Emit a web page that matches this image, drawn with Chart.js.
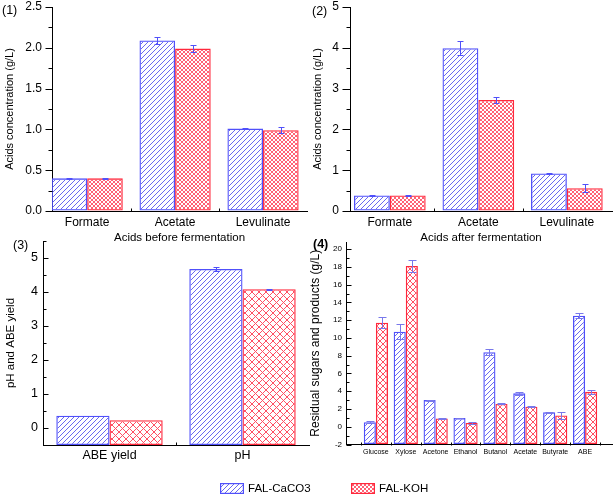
<!DOCTYPE html>
<html>
<head>
<meta charset="utf-8">
<script src="https://cdn.jsdelivr.net/npm/chart.js"></script>
<style>
  body { margin: 0; background: #fff; width: 614px; height: 496px; overflow: hidden; position: relative; font-family: "Liberation Sans", Arial, sans-serif; }
  canvas.panel { position: absolute; }
  .tag { position: absolute; font-size: 12.5px; color: #000; line-height: 14px; }
  .key { position: absolute; font-size: 11.5px; color: #000; line-height: 14px; }
  .sw { position: absolute; }
</style>
</head>
<body>
<canvas class="panel" id="p1" width="312" height="252" style="left:0;top:0"></canvas>
<canvas class="panel" id="p2" width="309" height="252" style="left:305px;top:0"></canvas>
<canvas class="panel" id="p3" width="312" height="230" style="left:0;top:236px"></canvas>
<canvas class="panel" id="p4" width="309" height="230" style="left:305px;top:236px"></canvas>

<div class="tag" style="left:2px;top:3px">(1)</div>
<div class="tag" style="left:312px;top:4px">(2)</div>
<div class="tag" style="left:13px;top:238px">(3)</div>
<div class="tag" style="left:313px;top:237px;font-weight:bold">(4)</div>

<canvas class="sw" id="kb" width="24" height="11" style="left:220px;top:483px"></canvas>
<div class="key" style="left:248px;top:481px">FAL-CaCO3</div>
<canvas class="sw" id="kr" width="24" height="11" style="left:351px;top:483px"></canvas>
<div class="key" style="left:379px;top:481px">FAL-KOH</div>

<script>
const seriesNames = ["FAL-CaCO3", "FAL-KOH"];

// (1) acids before fermentation
const acidCats = ["Formate", "Acetate", "Levulinate"];
const beforeCaCO3 = [0.40, 2.09, 1.01];
const beforeCaCO3Err = [0.01, 0.04, 0.01];
const beforeKOH = [0.40, 1.99, 0.99];
const beforeKOHErr = [0.005, 0.04, 0.04];
const ticks1 = [0, 0.5, 1.0, 1.5, 2.0, 2.5];

// (2) acids after fermentation
const afterCaCO3 = [0.38, 3.99, 0.92];
const afterCaCO3Err = [0.01, 0.17, 0.02];
const afterKOH = [0.38, 2.72, 0.56];
const afterKOHErr = [0.01, 0.08, 0.09];
const ticks2 = [0, 1, 2, 3, 4, 5];

// (3) pH and ABE yield
const yieldCats = ["ABE yield", "pH"];
const yieldCaCO3 = [0.36, 4.68];
const yieldCaCO3Err = [0, 0.07];
const yieldKOH = [0.23, 4.08];
const yieldKOHErr = [0, 0.01];
const ticks3 = [0, 1, 2, 3, 4, 5];

// (4) residual sugars and products
const prodCats = ["Glucose", "Xylose", "Acetone", "Ethanol", "Butanol", "Acetate", "Butyrate", "ABE"];
const prodCaCO3 = [0.5, 10.7, 3.0, 0.97, 8.4, 3.76, 1.63, 12.5];
const prodCaCO3Err = [0.1, 0.85, 0.05, 0.04, 0.3, 0.2, 0.04, 0.3];
const prodKOH = [11.7, 18.1, 0.93, 0.42, 2.57, 2.26, 1.26, 3.93];
const prodKOHErr = [0.6, 0.7, 0.1, 0.08, 0.05, 0.05, 0.35, 0.25];
const ticks4 = [-2, 0, 2, 4, 6, 8, 10, 12, 14, 16, 18, 20];

const FONT = "'Liberation Sans', Arial, sans-serif";
const BLUE = "rgb(80,80,250)";
const BLUE_HATCH = "rgb(105,105,240)";
const RED = "rgb(255,40,60)";
const RED_HATCH = "rgb(255,80,100)";

function stripes(color, size) {
  const c = document.createElement("canvas");
  c.width = c.height = size;
  const g = c.getContext("2d");
  g.strokeStyle = color;
  g.lineWidth = 1;
  g.beginPath();
  g.moveTo(-1, size + 1); g.lineTo(size + 1, -1);
  g.moveTo(-1, 1); g.lineTo(1, -1);
  g.moveTo(size - 1, size + 1); g.lineTo(size + 1, size - 1);
  g.stroke();
  return g.createPattern(c, "repeat");
}

function mesh(color, size, w) {
  const c = document.createElement("canvas");
  c.width = c.height = size;
  const g = c.getContext("2d");
  g.strokeStyle = color;
  g.lineWidth = w;
  g.beginPath();
  g.moveTo(-1, size + 1); g.lineTo(size + 1, -1);
  g.moveTo(-1, -1); g.lineTo(size + 1, size + 1);
  g.stroke();
  return g.createPattern(c, "repeat");
}

function minorOf(major) {
  const step = major[1] - major[0];
  return major.map(v => v + step / 2);
}

// axis tick marks (major/minor, in or out) the Origin way
function drawTicks(chart, o) {
  const ctx = chart.ctx, xs = chart.scales.x, ys = chart.scales.y, area = chart.chartArea;
  const left = Math.round(area.left) + 0.5;
  const bottom = Math.round(area.bottom) + 0.5;
  const major = o.ticks.map(v => Math.round(ys.getPixelForValue(v)) + 0.5);
  const minor = o.minor.map(v => Math.round(ys.getPixelForValue(v)) + 0.5);
  const xt = o.cats.slice(0, -1).map((c, i) => i + 1.5).concat(o.edgeTicks || [])
    .map(v => Math.round(xs.getPixelForValue(v)) + 0.5);
  ctx.save();
  ctx.strokeStyle = "#000";
  ctx.lineWidth = 1;
  ctx.beginPath();
  for (const p of major) { ctx.moveTo(left, p); ctx.lineTo(left + o.dir * o.len[0], p); }
  for (const p of minor) { ctx.moveTo(left, p); ctx.lineTo(left + o.dir * o.len[1], p); }
  for (const p of xt) { ctx.moveTo(p, bottom); ctx.lineTo(p, bottom - 3); }
  ctx.stroke();
  ctx.restore();
}

function drawErrors(chart, o) {
  const ctx = chart.ctx, ys = chart.scales.y;
  ctx.save();
  ctx.strokeStyle = o.errColor;
  ctx.lineWidth = 1;
  chart.data.datasets.forEach((ds, di) => {
    chart.getDatasetMeta(di).data.forEach((bar, i) => {
      const e = ds.errors[i];
      if (!e) return;
      const v = ds.data[i].y;
      const t = Math.round(ys.getPixelForValue(v + e)) + 0.5;
      const b = Math.round(ys.getPixelForValue(v - e)) + 0.5;
      const x = Math.round(bar.x) + 0.5;
      ctx.beginPath();
      ctx.moveTo(x, t); ctx.lineTo(x, b);
      ctx.moveTo(x - o.cap, t); ctx.lineTo(x + o.cap, t);
      ctx.moveTo(x - o.cap, b); ctx.lineTo(x + o.cap, b);
      ctx.stroke();
    });
  });
  ctx.restore();
}

function panel(id, o) {
  const set = (label, vals, errs, fill, line) => ({
    label,
    data: vals.map((v, i) => ({ x: i + 1, y: v })),
    errors: errs,
    backgroundColor: fill,
    borderColor: line,
    borderWidth: 1.3,
    borderSkipped: false,
    base: o.yMin
  });
  return new Chart(document.getElementById(id), {
    type: "bar",
    data: {
      datasets: [
        set(seriesNames[0], o.a, o.aErr, stripes(BLUE_HATCH, o.stripe), BLUE),
        set(seriesNames[1], o.b, o.bErr, mesh(RED_HATCH, o.mesh, o.meshW), RED)
      ]
    },
    options: {
      responsive: false,
      animation: false,
      layout: { padding: o.pad },
      datasets: { bar: { categoryPercentage: o.catPct, barPercentage: 1 } },
      plugins: { legend: { display: false }, tooltip: { enabled: false } },
      scales: {
        x: {
          type: "linear",
          offset: false,
          min: o.xMin,
          max: o.xMax,
          grid: { drawOnChartArea: false, drawTicks: false, offset: false },
          border: { color: "#000", width: 1 },
          afterBuildTicks: s => { s.ticks = o.cats.map((c, i) => ({ value: i + 1 })); },
          afterFit: s => { s.height = o.xH; s.paddingLeft = 0; s.paddingRight = 0; },
          ticks: {
            autoSkip: false,
            maxRotation: 0,
            padding: o.xPad,
            color: "#000",
            font: { family: FONT, size: o.xFont },
            callback: v => o.cats[v - 1] || ""
          },
          title: {
            display: !!o.xTitle,
            text: o.xTitle || "",
            color: "#000",
            font: { family: FONT, size: 11.5 },
            padding: { top: 0, bottom: 7 }
          }
        },
        y: {
          min: o.yMin,
          max: o.yMax,
          grid: { drawOnChartArea: false, drawTicks: false },
          border: { color: "#000", width: 1 },
          afterBuildTicks: s => { s.ticks = o.ticks.map(v => ({ value: v })); },
          afterFit: s => { s.width = o.yW; s.paddingTop = 0; s.paddingBottom = 0; },
          ticks: {
            padding: o.yPad,
            color: "#000",
            font: { family: FONT, size: o.yFont },
            callback: v => o.fmt(v)
          },
          title: {
            display: true,
            text: o.yTitle,
            color: "#000",
            font: { family: FONT, size: o.yTitleFont },
            padding: { top: o.yTitlePad, bottom: 0 }
          }
        }
      }
    },
    plugins: [{
      id: "originAxes",
      afterDatasetsDraw(chart) {
        drawErrors(chart, o);
        drawTicks(chart, o);
      }
    }]
  });
}

panel("p1", {
  cats: acidCats, a: beforeCaCO3, aErr: beforeCaCO3Err, b: beforeKOH, bErr: beforeKOHErr,
  ticks: ticks1, minor: minorOf(ticks1).slice(0, -1), len: [7, 4], dir: -1,
  xMin: 0.6, xMax: 3.5, yMin: 0, yMax: 2.5, catPct: 0.81,
  pad: { top: 7, left: 0, right: 5, bottom: 0 }, yW: 52, xH: 41,
  xPad: 4, yPad: 10, xFont: 12, yFont: 12, fmt: v => v.toFixed(1),
  xTitle: "Acids before fermentation", yTitle: "Acids concentration (g/L)", yTitleFont: 11, yTitlePad: 3,
  stripe: 5, mesh: 4, meshW: 0.9, errColor: BLUE, cap: 3
});

panel("p2", {
  cats: acidCats, a: afterCaCO3, aErr: afterCaCO3Err, b: afterKOH, bErr: afterKOHErr,
  ticks: ticks2, minor: minorOf(ticks2).slice(0, -1), len: [8, 4], dir: -1,
  xMin: 0.55, xMax: 3.51, yMin: 0, yMax: 5, catPct: 0.81,
  pad: { top: 7, left: 0, right: 2, bottom: 0 }, yW: 45, xH: 41,
  xPad: 4, yPad: 11, xFont: 12, yFont: 12, fmt: v => String(v),
  xTitle: "Acids after fermentation", yTitle: "Acids concentration (g/L)", yTitleFont: 11, yTitlePad: 6,
  stripe: 5, mesh: 4, meshW: 0.9, errColor: BLUE, cap: 3
});

panel("p3", {
  cats: yieldCats, a: yieldCaCO3, aErr: yieldCaCO3Err, b: yieldKOH, bErr: yieldKOHErr,
  ticks: ticks3, minor: [-0.5].concat(minorOf(ticks3)), len: [5, 3], dir: 1,
  xMin: 0.5, xMax: 2.5, yMin: -0.5, yMax: 5.5, catPct: 0.8,
  pad: { top: 5, left: 0, right: 3, bottom: 0 }, yW: 43, xH: 21,
  xPad: 3, yPad: 5, xFont: 12.5, yFont: 12.5, fmt: v => String(v),
  yTitle: "pH and ABE yield", yTitleFont: 11.5, yTitlePad: 4,
  stripe: 5, mesh: 7, meshW: 1, errColor: BLUE, cap: 3
});

panel("p4", {
  cats: prodCats, a: prodCaCO3, aErr: prodCaCO3Err, b: prodKOH, bErr: prodKOHErr,
  ticks: ticks4, minor: minorOf(ticks4).slice(0, -1), len: [5, 3], dir: 1,
  xMin: 0, xMax: 8.9, yMin: -2, yMax: 20.8, catPct: 0.81, edgeTicks: [0.5, 8.5],
  pad: { top: 6, left: 0, right: 2, bottom: 0 }, yW: 41, xH: 21.5,
  xPad: 3, yPad: 4, xFont: 7, yFont: 8, fmt: v => String(v),
  yTitle: "Residual sugars and products (g/L)", yTitleFont: 12, yTitlePad: 3,
  stripe: 5, mesh: 6, meshW: 1, errColor: "rgb(120,120,235)", cap: 4
});

// legend swatches
function swatch(id, fill, line) {
  const g = document.getElementById(id).getContext("2d");
  g.fillStyle = fill;
  g.fillRect(0, 0, 24, 11);
  g.strokeStyle = line;
  g.lineWidth = 1.2;
  g.strokeRect(0.6, 0.6, 22.8, 9.8);
}
swatch("kb", stripes(BLUE_HATCH, 5), BLUE);
swatch("kr", mesh(RED_HATCH, 4, 0.9), RED);
</script>
</body>
</html>
